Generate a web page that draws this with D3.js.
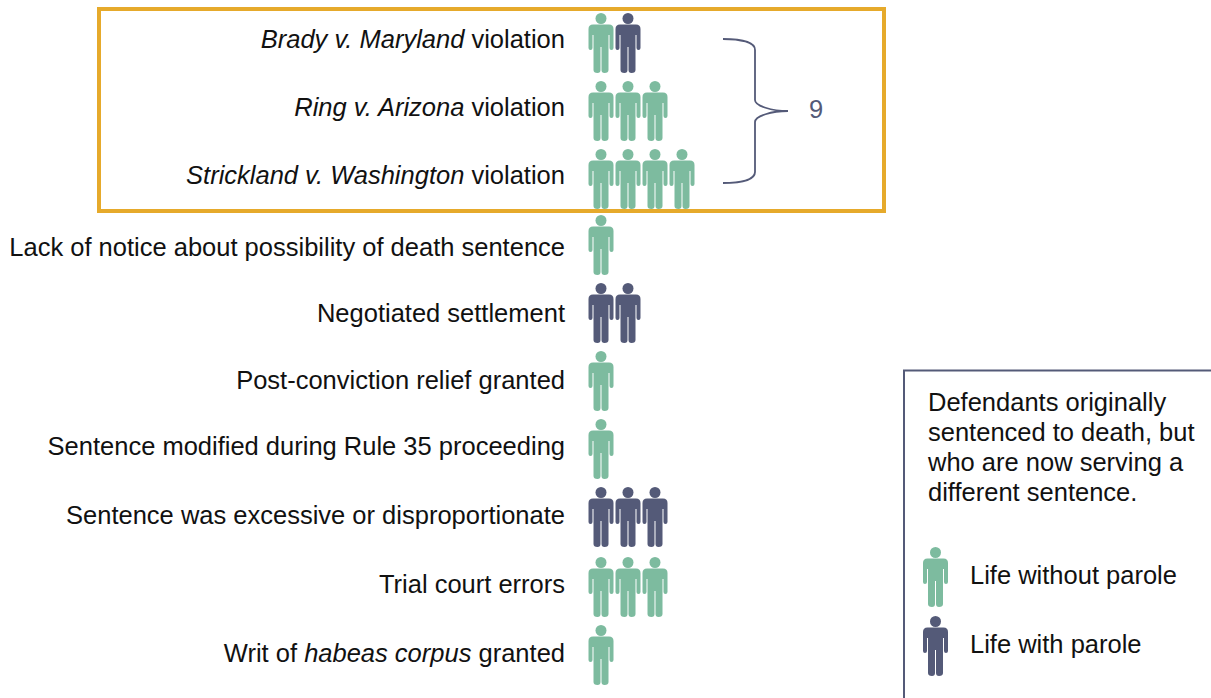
<!DOCTYPE html>
<html>
<head>
<meta charset="utf-8">
<script src="https://cdn.jsdelivr.net/npm/d3@7"></script>
<style>
  html, body { margin: 0; padding: 0; background: #fff; }
  svg { display: block; }
  text { font-family: "Liberation Sans", sans-serif; fill: #111; }
</style>
</head>
<body>
<div id="chart"></div>
<script>
// each label is a list of [text, italic] runs
var labels = [
  [["Brady v. Maryland", true], [" violation", false]],
  [["Ring v. Arizona", true], [" violation", false]],
  [["Strickland v. Washington", true], [" violation", false]],
  [["Lack of notice about possibility of death sentence", false]],
  [["Negotiated settlement", false]],
  [["Post-conviction relief granted", false]],
  [["Sentence modified during Rule 35 proceeding", false]],
  [["Sentence was excessive or disproportionate", false]],
  [["Trial court errors", false]],
  [["Writ of ", false], ["habeas corpus", true], [" granted", false]]
];
var withoutParole = [1, 3, 4, 1, 0, 1, 1, 0, 3, 1];
var withParole    = [1, 0, 0, 0, 2, 0, 0, 3, 0, 0];
var bracketTotal = "9";
var noteLines = ["Defendants originally", "sentenced to death, but", "who are now serving a", "different sentence."];
var legendLabels = ["Life without parole", "Life with parole"];

var width = 1211, height = 698;
var green = "#7dbb9f", navy = "#545a78", gold = "#e6aa2b";
var fontSize = 25.5;

var svg = d3.select("#chart").append("svg")
  .attr("width", width)
  .attr("height", height);

var rowIndex = labels.map(function(d, i) { return i; });
// rows in the picture are not quite evenly spaced, so the scales are piecewise
var y = d3.scaleLinear().domain([0, 2, 3, 7, 8, 9]).range([43, 179, 245, 517, 587, 655]);
var labelY = d3.scaleLinear().domain([0, 2, 3, 4, 6, 9]).range([48, 184, 256, 322, 455, 662]);
var x = d3.scaleLinear().domain([0, 1]).range([601, 628]);

// person icon, centred on 0,0, 25 wide and 60 tall
var personPath = "M-8,-18.5 Q-12.5,-18.5 -12.5,-14 L-12.5,5 Q-12.5,7 -10.5,7 Q-8.5,7 -8.5,5 L-8.5,-8 L-7.5,-8 L-7.5,27 Q-7.5,30 -3.5,30 Q-0.5,30 -0.5,27 L-0.5,4 L0.5,4 L0.5,27 Q0.5,30 3.5,30 Q7.5,30 7.5,27 L7.5,-8 L8.5,-8 L8.5,5 Q8.5,7 10.5,7 Q12.5,7 12.5,5 L12.5,-14 Q12.5,-18.5 8,-18.5 Z";

function person(g, cx, cy, color) {
  var p = g.append("g").attr("transform", "translate(" + cx + "," + cy + ")");
  p.append("circle").attr("cx", 0).attr("cy", -24.5).attr("r", 5.5).attr("fill", color);
  p.append("path").attr("d", personPath).attr("fill", color);
}

// highlight box
svg.append("rect")
  .attr("x", 99).attr("y", 9)
  .attr("width", 785).attr("height", 202)
  .attr("fill", "none")
  .attr("stroke", gold)
  .attr("stroke-width", 4);

// row labels
var rowLabels = svg.selectAll(".row-label")
  .data(labels)
  .enter().append("text")
    .attr("class", "row-label")
    .attr("x", 565)
    .attr("y", function(d, i) { return labelY(i); })
    .attr("text-anchor", "end")
    .attr("font-size", fontSize);

rowLabels.selectAll("tspan")
  .data(function(d) { return d; })
  .enter().append("tspan")
    .attr("font-style", function(d) { return d[1] ? "italic" : "normal"; })
    .text(function(d) { return d[0]; });

// icons
var iconLayer = svg.append("g");
rowIndex.forEach(function(i) {
  var k = 0, n;
  for (n = 0; n < withoutParole[i]; n++) person(iconLayer, x(k++), y(i), green);
  for (n = 0; n < withParole[i]; n++) person(iconLayer, x(k++), y(i), navy);
});

// brace round the first three rows
svg.append("path")
  .attr("d", "M723,39 C740,39 755,42 755,50 L755,100 C755,106 772,111 788,111 C772,111 755,116 755,122 L755,172 C755,180 740,183 723,183")
  .attr("fill", "none")
  .attr("stroke", navy)
  .attr("stroke-width", 1.8);

svg.append("text")
  .attr("x", 816).attr("y", 118)
  .attr("text-anchor", "middle")
  .attr("font-size", fontSize)
  .style("fill", navy)
  .text(bracketTotal);

// legend panel, open on the right and bottom
svg.append("path")
  .attr("d", "M1211,370.5 L904,370.5 L904,698")
  .attr("fill", "none")
  .attr("stroke", navy)
  .attr("stroke-width", 2);

svg.selectAll(".note")
  .data(noteLines)
  .enter().append("text")
    .attr("class", "note")
    .attr("x", 928)
    .attr("y", function(d, i) { return 411 + i * 30; })
    .attr("font-size", fontSize)
    .text(function(d) { return d; });

var legendY = d3.scalePoint().domain(legendLabels).range([577, 646]);
var legendColor = d3.scaleOrdinal().domain(legendLabels).range([green, navy]);

legendLabels.forEach(function(d) {
  person(svg, 935.5, legendY(d), legendColor(d));
  svg.append("text")
    .attr("x", 970)
    .attr("y", legendY(d) + 7)
    .attr("font-size", fontSize)
    .text(d);
});
</script>
</body>
</html>
